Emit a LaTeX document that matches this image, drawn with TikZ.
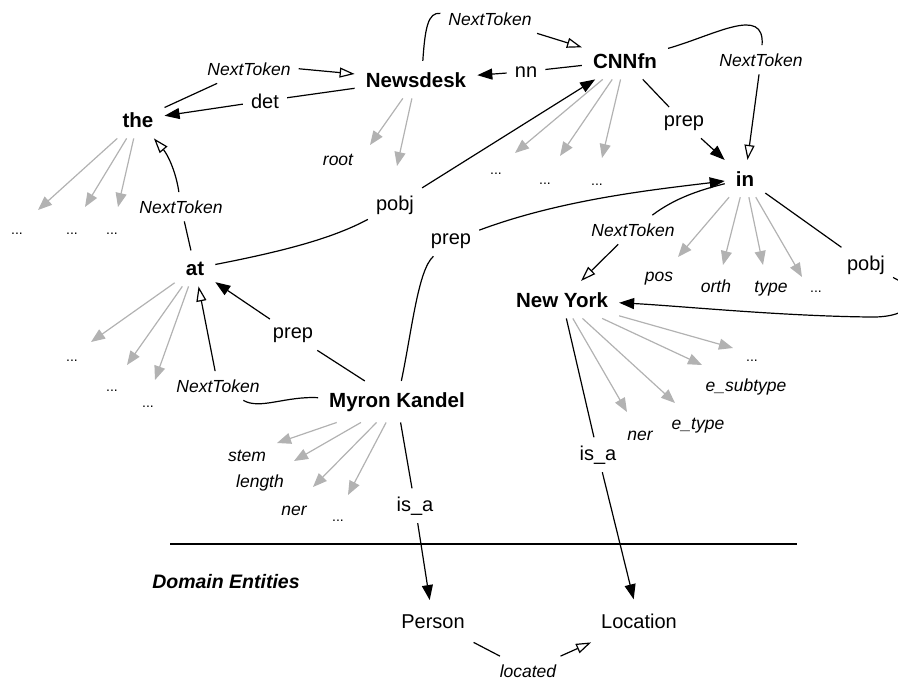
\documentclass[tikz,border=0pt]{standalone}
\usepackage{fontspec}
\setmainfont{Liberation Sans}
\usetikzlibrary{arrows.meta}

\begin{document}
\begin{tikzpicture}[x=1pt, y=-1pt,
        tok/.style={font=\fontsize{20.5}{24}\selectfont\bfseries, anchor=base, inner sep=11pt},
        ent/.style={font=\fontsize{20}{24}\selectfont, anchor=base, inner sep=14pt},
        lbl/.style={font=\fontsize{20}{24}\selectfont, anchor=base, inner sep=8pt},
        ntl/.style={font=\fontsize{17.5}{21}\selectfont\itshape, anchor=base, inner sep=8pt},
        feat/.style={font=\fontsize{17.5}{21}\selectfont\itshape, anchor=base, inner sep=1pt},
        dots/.style={font=\fontsize{14}{16}\selectfont, anchor=base, inner sep=1pt},
        dep/.style={black, line width=1.2pt},
        arr/.style={-{Triangle[length=15pt,width=11pt]}},
        nt/.style={dep, -{Triangle[open,length=15pt,width=10pt]}},
        gr/.style={black!30, line width=1.2pt, -{Triangle[length=14pt,width=11pt]}}]
        \useasboundingbox (0,0) rectangle (898,681);

        % tokens
        \node[tok] (the) at (138,127) {the};
        \node[tok] (newsdesk) at (416,87) {Newsdesk};
        \node[tok] (cnnfn) at (625,68) {CNNfn};
        \node[tok] (in) at (745,186) {in};
        \node[tok] (at) at (195,275) {at};
        \node[tok] (newyork) at (562,307) {New York};
        \node[tok] (myron) at (397,407) {Myron Kandel};

        % domain entities
        \draw[line width=1.2pt] (170,544) -- (797,544);
        \node[font=\fontsize{19.5}{22}\selectfont\bfseries\itshape, anchor=base] (domain) at (226,588) {Domain Entities};
        \node[ent] (person) at (433,628) {Person};
        \node[ent] (location) at (639,628) {Location};

        % edge labels
        \node[lbl] (det) at (265,108) {det};
        \node[lbl] (nn) at (526,77) {nn};
        \node[lbl] (prepA) at (684,126) {prep};
        \node[lbl] (pobjA) at (395,210) {pobj};
        \node[lbl] (prepB) at (451,244) {prep};
        \node[lbl] (prepC) at (293,338) {prep};
        \node[lbl] (pobjB) at (866,270) {pobj};
        \node[lbl] (isaA) at (415,511) {is\_a};
        \node[lbl] (isaB) at (598,460) {is\_a};

        \node[ntl] (ntA) at (249,75) {NextToken};
        \node[ntl] (ntB) at (490,25) {NextToken};
        \node[ntl] (ntC) at (761,66) {NextToken};
        \node[ntl] (ntD) at (181,213) {NextToken};
        \node[ntl] (ntE) at (218,392) {NextToken};
        \node[ntl] (ntF) at (633,236) {NextToken};
        \node[ntl] (located) at (528,677) {located};

        % features
        \node[feat] (root) at (338,165) {root};
        \node[feat] (pos) at (659,281) {pos};
        \node[feat] (orth) at (716,292) {orth};
        \node[feat] (type) at (771,292) {type};
        \node[feat] (nerB) at (640,440) {ner};
        \node[feat] (etype) at (698,429) {e\_type};
        \node[feat] (esub) at (746,391) {e\_subtype};
        \node[feat] (stem) at (247,461) {stem};
        \node[feat] (length) at (260,487) {length};
        \node[feat] (nerA) at (294,515) {ner};

        \node[dots] (d1) at (17,234) {...};
        \node[dots] (d2) at (72,234) {...};
        \node[dots] (d3) at (112,234) {...};
        \node[dots] (d4) at (496,174) {...};
        \node[dots] (d5) at (545,184) {...};
        \node[dots] (d6) at (597,185) {...};
        \node[dots] (d7) at (72,361) {...};
        \node[dots] (d8) at (112,391) {...};
        \node[dots] (d9) at (148,407) {...};
        \node[dots] (d10) at (816,292) {...};
        \node[dots] (d11) at (752,361) {...};
        \node[dots] (d12) at (338,521) {...};

        % feature arrows
        \foreach \x/\y [count=\i] in {38/210, 85/207, 118/207} {
            \coordinate (the\i) at (\x,\y);
            \draw[gr] (the) -- (the\i);
        }
        \foreach \x/\y [count=\i] in {370/145, 397/166} {
            \coordinate (nd\i) at (\x,\y);
            \draw[gr] (newsdesk) -- (nd\i);
        }
        \foreach \x/\y [count=\i] in {515/153, 560/156, 602/158} {
            \coordinate (cn\i) at (\x,\y);
            \draw[gr] (cnnfn) -- (cn\i);
        }
        \foreach \x/\y [count=\i] in {678/257, 723/265, 763/265, 802/277} {
            \coordinate (in\i) at (\x,\y);
            \draw[gr] (in) -- (in\i);
        }
        \foreach \x/\y [count=\i] in {91/342, 127/365, 155/380} {
            \coordinate (at\i) at (\x,\y);
            \draw[gr] (at) -- (at\i);
        }
        \foreach \x/\y [count=\i] in {627/412, 675/403, 702/365, 733/348} {
            \coordinate (ny\i) at (\x,\y);
            \draw[gr] (newyork) -- (ny\i);
        }
        \foreach \x/\y [count=\i] in {277/443, 294/461, 313/487, 348/495} {
            \coordinate (mk\i) at (\x,\y);
            \draw[gr] (myron) -- (mk\i);
        }

        % NextToken chain
        \draw[dep] (the) -- (ntA);
        \draw[nt] (ntA.east) -- (newsdesk);
        \draw[dep] (newsdesk.70) .. controls (425,28) and (428,12) .. (ntB);
        \draw[nt] (ntB) -- (cnnfn);
        \draw[dep] (cnnfn) .. controls (715,35) and (765,5) .. (ntC);
        \draw[nt] (ntC) -- (in);
        \draw[dep] (in) .. controls (700,190) and (675,198) .. (ntF);
        \draw[nt] (ntF) -- (newyork);
        \draw[dep] (myron) .. controls (285,396) and (260,410) .. (ntE);
        \draw[nt] (ntE) -- (at);
        \draw[dep] (at) -- (ntD);
        \draw[nt] (ntD) .. controls (176,172) and (168,155) .. (the);

        % dependencies
        \draw[dep] (newsdesk) -- (det);
        \draw[dep,arr] (det) -- (the);
        \draw[dep] (cnnfn) -- (nn);
        \draw[dep,arr] (nn) -- (newsdesk);
        \draw[dep] (cnnfn) -- (prepA);
        \draw[dep,arr] (prepA) -- (in);
        \draw[dep] (at) .. controls (290,250) and (335,237) .. (pobjA);
        \draw[dep,arr] (pobjA) -- (cnnfn);
        \draw[dep] (myron) .. controls (412,330) and (418,270) .. (prepB);
        \draw[dep,arr] (prepB) .. controls (560,200) and (650,190) .. (in);
        \draw[dep] (myron) -- (prepC);
        \draw[dep,arr] (prepC) -- (at);
        \draw[dep] (in) -- (pobjB);
        \draw[dep,arr] (pobjB) .. controls (920,290) and (920,318) .. (870,317) .. controls (780,316) and (680,306) .. (newyork);

        % is_a
        \draw[dep] (myron) -- (isaA);
        \draw[dep,arr] (isaA) -- (person);
        \draw[dep] (newyork) -- (isaB);
        \draw[dep,arr] (isaB) -- (location);
        \draw[dep] (person) -- (located);
        \draw[nt] (located) -- (location);
    \end{tikzpicture}
\end{document}
